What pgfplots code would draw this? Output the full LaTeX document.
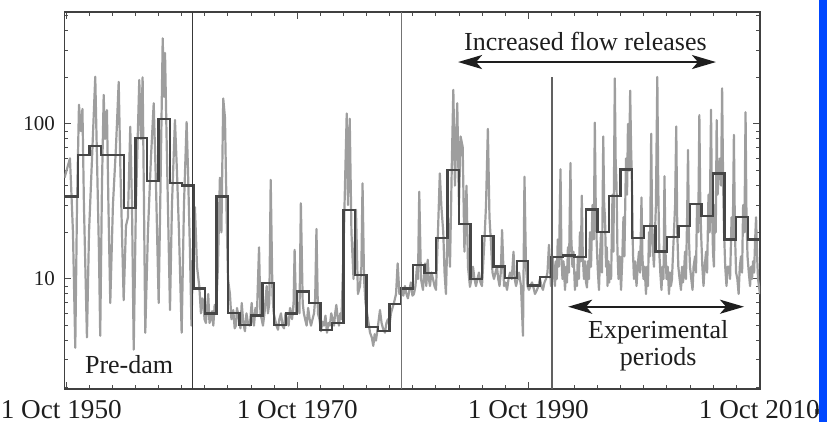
\documentclass[border=0pt]{standalone}
\usepackage{fontspec}
\setmainfont{Liberation Serif}
\usepackage{pgfplots}
\pgfplotsset{compat=1.18}
\usetikzlibrary{arrows.meta}
\definecolor{graydata}{RGB}{158,158,158}
\definecolor{stepc}{RGB}{70,70,70}
\definecolor{bluebar}{RGB}{0,72,255}
\definecolor{txt}{RGB}{30,30,30}
\begin{document}
\begin{tikzpicture}
\path[use as bounding box] (0,0) rectangle (417.5pt,211pt);
\fill[bluebar] (409.6pt,0) rectangle (413.6pt,211pt);
\fill[black!60] (407.5pt,4pt) rectangle (409.6pt,6.5pt);
\begin{axis}[
  at={(32.15pt,16.5pt)}, anchor=south west,
  scale only axis, width=347.85pt, height=188.5pt,
  ymode=log, xmin=1950.58, xmax=2010.81, ymin=1.95, ymax=528,
  xtick={1950.75,1970.75,1990.75,2010.75},
  xticklabels={1 Oct 1950\hspace*{5pt},1 Oct 1970,1 Oct 1990,1 Oct 2010},
  minor xtick={1952.75,1954.75,...,2008.75},
  ytick={10,100}, yticklabels={10,100},
  minor ytick={2,3,4,5,6,7,8,9,20,30,40,50,60,70,80,90,200,300,400,500},
  tick align=inside,
  major tick length=3.5pt, minor tick length=2pt,
  every tick/.style={black!70, line width=0.5pt},
  axis line style={black!75, line width=0.7pt},
  xticklabel style={font=\fontsize{13.6}{15}\selectfont, text=txt, yshift=-2.3pt},
  yticklabel style={font=\fontsize{10.5}{12}\selectfont, text=txt, xshift=-1.2pt},
  clip=true,
]
\addplot[graydata, line width=1.1pt, line join=round] coordinates {
(1950.6,45) (1951.07,60) (1951.2,35) (1951.33,20) (1951.53,3.6) (1951.68,30) (1951.85,133)
(1952.02,90) (1952.15,125) (1952.28,30) (1952.54,4.2) (1952.72,20) (1952.98,60)
(1953.26,202) (1953.41,60) (1953.58,15) (1953.69,4.3) (1953.84,40) (1953.99,154)
(1954.10,80) (1954.27,123) (1954.40,30) (1954.56,7) (1954.79,30) (1955.05,70)
(1955.29,187) (1955.44,50) (1955.72,7.3) (1955.92,22) (1956.09,25) (1956.29,96)
(1956.44,30) (1956.59,3.5) (1956.78,30) (1957.07,192) (1957.22,80) (1957.36,200)
(1957.48,30) (1957.59,4.5) (1957.82,20) (1958.08,60) (1958.32,136) (1958.52,40)
(1958.75,7) (1958.91,40) (1959.10,357) (1959.21,150) (1959.30,287) (1959.47,60)
(1959.73,6.3) (1959.90,30) (1960.16,106) (1960.33,50) (1960.51,20) (1960.74,4.5)
(1960.94,30) (1961.17,103) (1961.29,50) (1961.46,15) (1961.59,5) (1961.76,20)
(1961.89,29) (1962.07,12) (1962.27,8.9) (1962.41,6) (1962.52,7.5) (1962.61,7.3) (1962.72,5.5) (1962.84,5.2)
(1962.94,6.5) (1963.04,8) (1963.15,5.2) (1963.27,5.5) (1963.38,6.2) (1963.48,5) (1963.60,6.8) (1963.71,6) (1963.88,12) (1964.05,45)
(1964.18,20) (1964.34,146) (1964.49,110) (1964.62,30) (1964.75,10) (1964.92,8)
(1965.05,5.5) (1965.21,6.3) (1965.33,4.8) (1965.44,5) (1965.53,6.5) (1965.62,6) (1965.83,4.8) (1965.94,7) (1966.08,5.2) (1966.22,4.6)
(1966.35,6) (1966.48,5.2) (1966.64,5) (1966.80,7) (1966.90,5.5) (1967.00,5) (1967.13,6.5) (1967.26,6) (1967.44,16) (1967.56,6)
(1967.67,5.5) (1967.78,5) (1967.93,6.2) (1968.10,9) (1968.21,6) (1968.33,7) (1968.45,43.6) (1968.60,8) (1968.71,6) (1968.82,5.5)
(1968.95,5) (1969.08,4.7) (1969.20,5.5) (1969.34,6) (1969.47,5) (1969.60,4.8) (1969.73,6) (1969.86,5.5) (1970.00,5) (1970.12,6.5) (1970.30,5.5)
(1970.43,7) (1970.52,15.4) (1970.65,6) (1970.83,7) (1970.94,6) (1971.06,30.8) (1971.22,7) (1971.32,6) (1971.43,5.5)
(1971.56,5) (1971.69,6.5) (1971.82,5.5) (1971.94,5) (1972.07,5.5) (1972.20,6) (1972.30,7.5) (1972.41,21) (1972.54,6) (1972.67,5.5) (1972.80,4.6)
(1972.93,5.3) (1973.06,5) (1973.19,5.8) (1973.32,4.5) (1973.45,5.2) (1973.57,5) (1973.69,6) (1973.81,5.5) (1973.93,5) (1974.03,6) (1974.13,6.8) (1974.25,5.6) (1974.36,5)
(1974.47,6) (1974.58,5.5) (1974.75,15) (1974.88,40) (1975.03,117) (1975.14,30) (1975.29,108)
(1975.44,20) (1975.62,10) (1975.83,28) (1976.00,8) (1976.18,9) (1976.30,12) (1976.40,41.4)
(1976.53,10) (1976.66,7) (1976.79,6) (1976.92,5.2) (1977.05,4.5) (1977.20,4.2) (1977.33,3.7) (1977.45,4.4) (1977.56,4.0) (1977.74,5)
(1977.91,6.3) (1978.05,5.2) (1978.17,4.8) (1978.34,4.5) (1978.47,5.2) (1978.60,5.5) (1978.73,5) (1978.86,6) (1978.99,6.5) (1979.12,7)
(1979.30,8) (1979.44,12.6) (1979.59,8) (1979.78,8.5) (1979.93,7.8) (1980.07,9) (1980.20,8) (1980.33,7.5) (1980.46,8.5) (1980.59,9.5)
(1980.72,7.8) (1980.85,8) (1980.98,9) (1981.11,12) (1981.20,10) (1981.31,36.6) (1981.46,10) (1981.63,8.5) (1981.81,12.6)
(1981.92,9) (1982.04,13.3) (1982.14,10) (1982.24,9) (1982.37,11) (1982.50,10) (1982.63,9) (1982.76,8.5) (1982.93,20) (1983.09,48)
(1983.23,29) (1983.39,20) (1983.50,11) (1983.62,8) (1983.79,25) (1983.97,12) (1984.14,60)
(1984.26,166) (1984.40,40) (1984.60,136) (1984.75,30) (1984.89,83) (1985.07,71)
(1985.22,15) (1985.40,40) (1985.53,12) (1985.70,8.9) (1985.83,10) (1985.96,12) (1986.09,10) (1986.22,9)
(1986.35,10) (1986.48,11) (1986.61,9.5) (1986.74,9) (1986.96,18) (1987.09,30) (1987.25,93) (1987.39,25)
(1987.52,17) (1987.65,11) (1987.78,10) (1987.91,11) (1988.04,12) (1988.15,10) (1988.26,9) (1988.37,11) (1988.48,20.7) (1988.65,9)
(1988.78,9.5) (1988.91,8.5) (1989.04,10) (1989.17,11) (1989.32,10) (1989.47,15) (1989.58,10) (1989.69,9) (1989.82,10) (1989.95,11) (1990.12,9)
(1990.29,4.3) (1990.42,45.7) (1990.55,12) (1990.68,9) (1990.81,8.5) (1990.94,9) (1991.07,9.5) (1991.20,8.8) (1991.33,8)
(1991.50,8.5) (1991.63,9) (1991.76,10) (1991.89,9) (1992.02,8.5) (1992.15,9.5) (1992.28,10) (1992.41,11) (1992.54,16.6) (1992.71,9)
(1992.85,14) (1992.95,11) (1993.06,9) (1993.14,13) (1993.22,10) (1993.30,18) (1993.40,12) (1993.54,51) (1993.62,14) (1993.71,10) (1993.80,13) (1993.93,8.5)
(1994.02,12) (1994.10,9.5) (1994.18,16) (1994.27,11) (1994.40,56) (1994.48,18) (1994.57,12) (1994.66,15) (1994.79,8.5)
(1994.88,11) (1994.96,9) (1995.04,14) (1995.13,10) (1995.22,20) (1995.30,13) (1995.38,34.5) (1995.47,14) (1995.57,10) (1995.66,13) (1995.75,9.5) (1995.83,8.8)
(1995.92,13) (1996.00,10) (1996.09,20) (1996.18,12) (1996.31,30) (1996.42,18) (1996.51,102) (1996.60,25) (1996.70,15) (1996.78,11) (1996.87,8.5)
(1996.96,14) (1997.05,20) (1997.13,11) (1997.24,83) (1997.32,30) (1997.39,25) (1997.48,12) (1997.55,16) (1997.61,9) (1997.70,13) (1997.76,9.5) (1997.83,12)
(1997.92,10) (1998.04,35) (1998.12,15) (1998.24,197) (1998.31,60) (1998.39,40) (1998.47,15) (1998.56,10) (1998.66,14) (1998.78,8.5)
(1998.88,13) (1998.99,25) (1999.07,14) (1999.21,60) (1999.30,35) (1999.38,100) (1999.47,50) (1999.57,164) (1999.65,70) (1999.73,40) (1999.81,15) (1999.90,10)
(2000.00,13) (2000.12,9) (2000.22,12) (2000.33,15) (2000.43,11) (2000.55,33.5) (2000.63,14) (2000.72,10) (2000.82,12) (2000.94,8)
(2001.03,12) (2001.11,9) (2001.20,20) (2001.29,14) (2001.39,86.5) (2001.47,22) (2001.55,15) (2001.63,12) (2001.72,20) (2001.80,30) (2001.92,201) (2002.00,40) (2002.09,15) (2002.18,11) (2002.28,8.5)
(2002.37,12) (2002.46,10) (2002.54,46) (2002.63,15) (2002.72,10) (2002.82,12) (2002.93,8)
(2003.02,11) (2003.10,9) (2003.19,10) (2003.27,14) (2003.36,20) (2003.46,30) (2003.56,96.5) (2003.65,20) (2003.74,12) (2003.85,10) (2003.97,8.5)
(2004.06,12) (2004.14,9.5) (2004.23,11) (2004.32,15) (2004.40,10) (2004.50,25) (2004.58,68) (2004.66,18) (2004.75,12) (2004.86,10) (2004.97,8.5)
(2005.06,12) (2005.19,14) (2005.27,11) (2005.36,30) (2005.46,20) (2005.56,114) (2005.64,30) (2005.73,18) (2005.82,12) (2005.92,9)
(2006.02,12) (2006.14,15) (2006.23,11) (2006.35,35) (2006.45,20) (2006.57,123.5) (2006.65,30) (2006.74,15) (2006.82,12) (2006.90,30) (2006.98,20) (2007.06,106) (2007.14,35) (2007.22,45) (2007.35,60) (2007.44,40) (2007.53,170) (2007.62,40) (2007.70,20) (2007.80,12) (2007.91,9)
(2008.00,12) (2008.13,12) (2008.22,10) (2008.35,25) (2008.45,18) (2008.55,85) (2008.64,20) (2008.74,11) (2008.85,10) (2008.96,8)
(2009.06,12) (2009.17,14) (2009.26,11) (2009.35,30) (2009.46,20) (2009.56,119) (2009.64,25) (2009.73,14) (2009.84,11) (2009.95,9)
(2010.04,12) (2010.12,10) (2010.21,13) (2010.30,11) (2010.39,18) (2010.47,25) (2010.56,14) (2010.64,10) (2010.72,9) (2010.81,8)
};
\addplot[stepc, line width=1.2pt, const plot] coordinates {
(1950.58,34) (1950.75,34) (1951.75,63) (1952.75,72) (1953.75,63) (1954.75,63)
(1955.75,28.7) (1956.75,81) (1957.75,42.8) (1958.75,108) (1959.75,41.5)
(1960.75,40) (1961.75,8.7) (1962.75,6.0) (1963.75,34) (1964.75,6.05)
(1965.75,5.05) (1966.75,5.8) (1967.75,9.4) (1968.75,5.05) (1969.75,6.0)
(1970.75,8.3) (1971.75,7.0) (1972.75,4.7) (1973.75,5.2) (1974.75,27.9)
(1975.75,10.6) (1976.75,4.9) (1977.75,4.6) (1978.75,6.9) (1979.75,8.7)
(1980.75,12.3) (1981.75,10.9) (1982.75,18.3) (1983.75,50.5) (1984.75,22.6)
(1985.75,10.0) (1986.75,18.9) (1987.75,12.0) (1988.75,10.1) (1989.75,13.1)
(1990.75,9.1) (1991.75,10.3) (1992.75,13.9) (1993.75,14.2) (1994.75,13.9)
(1995.75,28.0) (1996.75,20.1) (1997.75,34.4) (1998.75,51) (1999.75,18.3)
(2000.75,22) (2001.75,15) (2002.75,18.7) (2003.75,22) (2004.75,30.4)
(2005.75,25.4) (2006.75,48) (2007.75,18) (2008.75,25.2) (2009.75,18)
(2010.81,18)
};
\addplot[black!78, line width=0.75pt] coordinates {(1961.7,1.95) (1961.7,528)};
\addplot[black!55, line width=0.5pt] coordinates {(1979.8,1.95) (1979.8,528)};
\addplot[black!62, line width=1pt] coordinates {(1992.83,1.95) (1992.83,201)};
\draw[txt, line width=1.2pt, {Stealth[length=12pt,width=7pt,inset=3pt]}-{Stealth[length=12pt,width=7pt,inset=3pt]}]
  (axis cs:1984.67,251) -- (axis cs:2007.0,251);
\draw[txt, line width=1.2pt, {Stealth[length=12pt,width=7pt,inset=3pt]}-{Stealth[length=12pt,width=7pt,inset=3pt]}]
  (axis cs:1994.2,6.62) -- (axis cs:2009.43,6.62);
\node[anchor=base, text=txt, font=\fontsize{13}{15}\selectfont, inner sep=0pt] at (axis cs:1995.7,300) {Increased flow releases};
\node[anchor=base, text=txt, font=\fontsize{13}{15}\selectfont, inner sep=0pt] at (axis cs:2002.0,4.14) {Experimental};
\node[anchor=base, text=txt, font=\fontsize{13}{15}\selectfont, inner sep=0pt] at (axis cs:2002.0,2.75) {periods};
\node[anchor=base, text=txt, font=\fontsize{13}{15}\selectfont, inner sep=0pt] at (axis cs:1956.19,2.47) {Pre-dam};
\end{axis}
\end{tikzpicture}
\end{document}
